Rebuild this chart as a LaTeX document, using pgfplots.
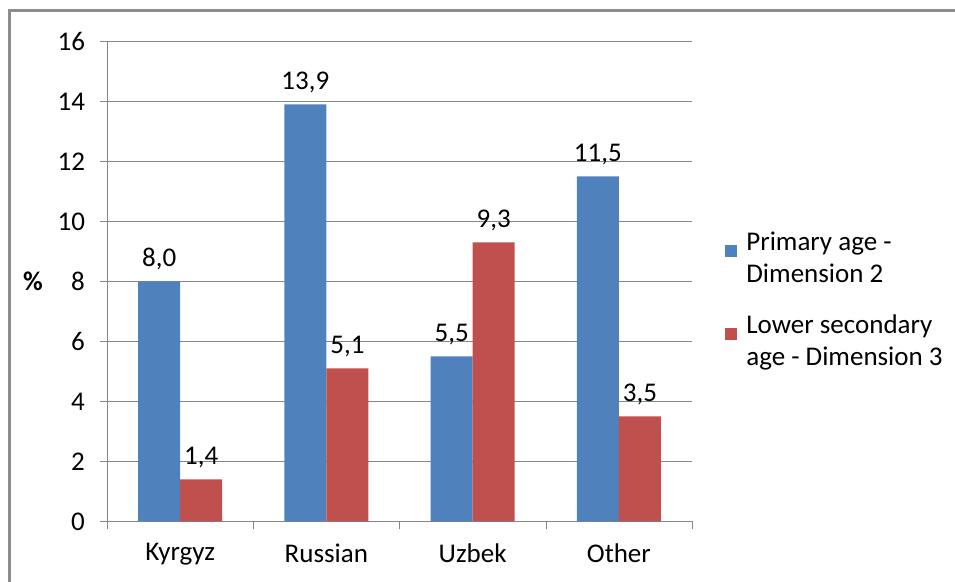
\documentclass[border=0pt]{standalone}
\usepackage{fontspec}
\setmainfont{Carlito}
\usepackage{pgfplots}
\pgfplotsset{compat=1.18}
\definecolor{barblue}{HTML}{4F81BD}
\definecolor{barred}{HTML}{C0504D}
\definecolor{gridgray}{HTML}{868686}
\definecolor{framegray}{HTML}{8C8C8C}

\begin{document}
\begin{tikzpicture}[font=\fontsize{13.5}{16}\selectfont]
\useasboundingbox (0,0) rectangle (477.5pt,291pt);
% outer chart frame (only left and top edges are inside the picture)
\draw[framegray, line width=1.5pt] (4.75pt,-5pt) -- (4.75pt,285.5pt) -- (485pt,285.5pt);
\begin{axis}[
    at={(53.5pt,30.25pt)}, anchor=south west,
    width=292.5pt, height=240pt, scale only axis,
    /pgf/number format/assume math mode=true,
    xmin=-0.5, xmax=3.5, ymin=0, ymax=16,
    ytick={0,2,...,16},
    xtick={0,1,2,3},
    xticklabels={Kyrgyz,Russian,Uzbek,Other},
    major x tick style={draw=none},
    minor xtick={-0.5,0.5,1.5,2.5,3.5},
    major tick length=3.5pt, minor tick length=4pt,
    tick align=outside,
    axis x line*=bottom, axis y line*=left,
    axis line style={gridgray},
    tick style={gridgray},
    ymajorgrids, grid style={gridgray},
    x tick label style={yshift=-4pt},
    y tick label style={xshift=-4pt},
    ylabel={\textbf{\%}},
    every axis y label/.style={at={(axis description cs:0,0.5)}, anchor=center, xshift=-37pt},
    ybar=0pt, bar width=21pt,
    every axis plot post/.append style={
        legend image code/.code={\fill[##1] (0pt,1pt) rectangle (6pt,7pt); \path (8.5pt,1pt);}},
    nodes near coords={\pgfmathprintnumber[fixed,fixed zerofill,precision=1,use comma]{\pgfplotspointmeta}},
    nodes near coords style={yshift=2pt},
    legend style={at={(1.0564,0.6115)}, anchor=north west, draw=none, fill=none,
        inner sep=0pt, row sep=10.5pt,
        cells={anchor=west, align=left}},
  ]
  \addplot[fill=barblue, draw=none] coordinates {(0,8.0) (1,13.9) (2,5.5) (3,11.5)};
  \addplot[fill=barred, draw=none] coordinates {(0,1.4) (1,5.1) (2,9.3) (3,3.5)};
  \legend{Primary age -\\Dimension 2, Lower secondary\\age - Dimension 3}
\end{axis}
\end{tikzpicture}
\end{document}
